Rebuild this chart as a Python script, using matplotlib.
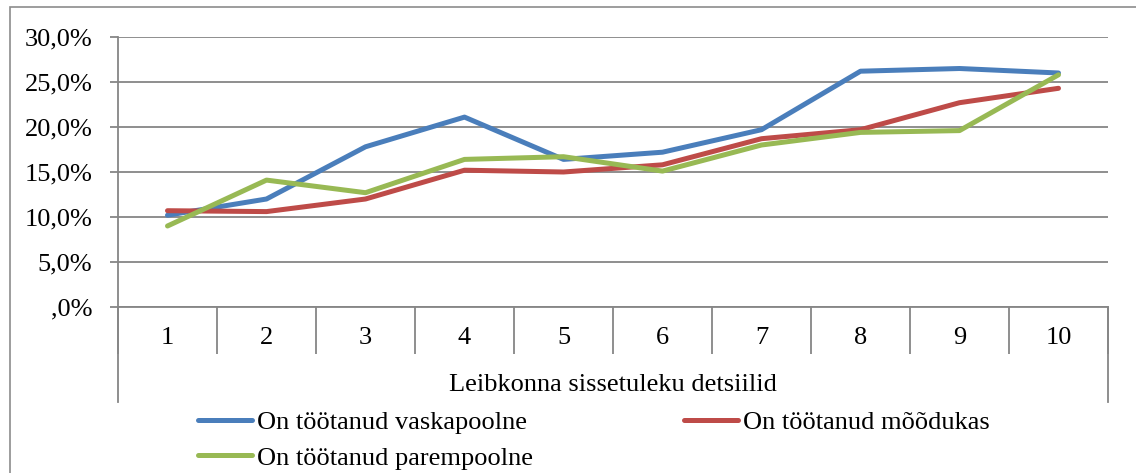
import matplotlib.pyplot as plt
from matplotlib.lines import Line2D
from matplotlib.patches import Rectangle
from matplotlib.ticker import FuncFormatter, FixedLocator

plt.rcParams['font.family'] = ['Liberation Serif', 'DejaVu Serif']

decile = [1, 2, 3, 4, 5, 6, 7, 8, 9, 10]
vasak = [10.2, 12.0, 17.8, 21.1, 16.4, 17.2, 19.7, 26.2, 26.5, 26.0]
moodukas = [10.7, 10.6, 12.0, 15.2, 15.0, 15.8, 18.7, 19.7, 22.7, 24.3]
parem = [9.0, 14.1, 12.7, 16.4, 16.7, 15.1, 18.0, 19.4, 19.6, 25.8]
names = ["On töötanud vaskapoolne", "On töötanud mõõdukas", "On töötanud parempoolne"]
colors = ["#4A7EBB", "#BE4B48", "#98B954"]
grid_c = "#868686"
fs = 19

W, H = 1136, 473
fig = plt.figure(figsize=(W / 100, H / 100), dpi=100)
# chart frame (only left and top are inside the picture)
fig.patches.append(Rectangle((10 / W, -0.1), 1.2, 1 - 7 / H + 0.1, transform=fig.transFigure,
                             fill=False, edgecolor="#8c8c8c", linewidth=1.2))

ax = fig.add_axes([118 / W, 1 - 307 / H, 990 / W, 270 / H])
lines = []
for serie, c in zip([vasak, moodukas, parem], colors):
    l, = ax.plot(decile, [v / 100 for v in serie], color=c, linewidth=3.6, solid_capstyle='round', zorder=3)
    lines.append(l)

ax.set_xlim(0.5, 10.5)
ax.set_ylim(0, 0.30)
ax.set_yticks([0, 0.05, 0.10, 0.15, 0.20, 0.25, 0.30])
ax.yaxis.set_major_formatter(FuncFormatter(
    lambda v, p: ",0%" if abs(v) < 1e-9 else f"{v * 100:.1f}".replace('.', ',') + "%"))
ax.grid(axis='y', color=grid_c, linewidth=1.3, zorder=1)
ax.set_axisbelow(True)

for s in ['top', 'right']:
    ax.spines[s].set_visible(False)
for s in ['left', 'bottom']:
    ax.spines[s].set_color(grid_c)
    ax.spines[s].set_linewidth(1.3)

ax.set_xticks(decile)
ax.set_xticklabels([str(d) for d in decile])
ax.xaxis.set_minor_locator(FixedLocator([d + 0.5 for d in [0] + decile]))
ax.tick_params(axis='x', which='major', length=0, pad=14.5, labelsize=fs)
ax.tick_params(axis='x', which='minor', length=34, direction='out', color=grid_c, width=1.3)
ax.tick_params(axis='y', length=6, direction='out', color=grid_c, width=1.3, pad=12.5, labelsize=fs)

# outer lines of the category box
for xv in [0.5, 10.5]:
    ax.add_line(Line2D([xv, xv], [0, -0.352], transform=ax.get_xaxis_transform(),
                       color=grid_c, linewidth=1.3, clip_on=False))

ax.text(0.5, -(385 - 307) / 270, "Leibkonna sissetuleku detsiilid",
        transform=ax.transAxes, ha='center', va='center', fontsize=fs)

# legend is filled column by column: put entries so rows read vasak, mõõdukas / parem
order = [0, 2, 1]
fig.legend([lines[i] for i in order], [names[i] for i in order], ncol=2, loc='upper left',
           bbox_to_anchor=(198 / W, 1 - 411 / H),
           frameon=False, fontsize=fs, handlelength=2.05, handletextpad=0.19,
           columnspacing=5.7, labelspacing=0.44, borderpad=0, borderaxespad=0)

fig.savefig("out.png", dpi=100)
